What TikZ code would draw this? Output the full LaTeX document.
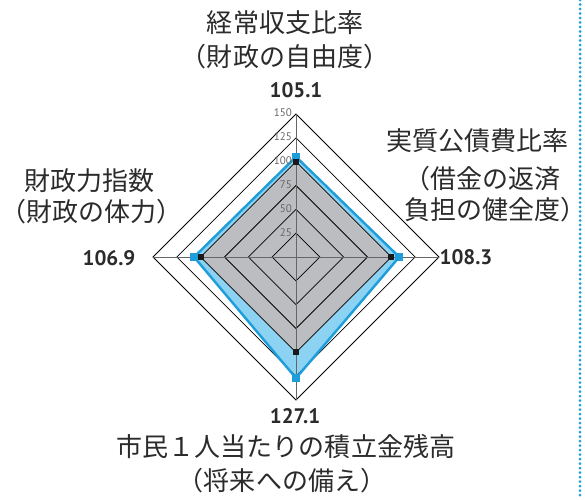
\documentclass[tikz,border=0pt]{standalone}
\usepackage{fontspec}
\setmainfont{Noto Sans CJK JP}
\newfontfamily\numfont{PT Sans}
\definecolor{chartblue}{HTML}{1D9DD9}
\definecolor{lightblue}{HTML}{8CD2F2}
\definecolor{chartgray}{HTML}{BCBDC0}
\definecolor{textgray}{HTML}{2B2B2B}

\begin{document}
\begin{tikzpicture}[x=1pt,y=1pt,
	title/.style={font=\fontsize{26}{26}\selectfont, text=textgray, inner sep=0pt},
	value/.style={font=\numfont\bfseries\fontsize{21}{21}\selectfont, text=textgray, inner sep=0pt},
	tick/.style={font=\numfont\fontsize{11}{11}\selectfont, text=black!60, anchor=east, inner sep=0pt}]
	\useasboundingbox (-296,-242) rectangle (289,257);
	\def\s{0.95333}
	% reference (100) and city values
	\coordinate (gT) at (0,100*\s);
	\coordinate (gR) at (100*\s,0);
	\coordinate (gB) at (0,-100*\s);
	\coordinate (gL) at (-100*\s,0);
	\coordinate (bT) at (0,105.1*\s);
	\coordinate (bR) at (108.3*\s,0);
	\coordinate (bB) at (0,-127.1*\s);
	\coordinate (bL) at (-106.9*\s,0);
	\fill[lightblue] (bT)--(bR)--(bB)--(bL)--cycle;
	\fill[chartgray] (gT)--(gR)--(gB)--(gL)--cycle;
	\foreach \r in {25,50,...,150}
		\draw[line width=0.8pt] (0,\r*\s)--(\r*\s,0)--(0,-\r*\s)--(-\r*\s,0)--cycle;
	\draw[black!60, line width=0.9pt] (-150*\s,0)--(150*\s,0) (0,-150*\s)--(0,150*\s);
	\draw[chartblue, line width=2.4pt] (bT)--(bR)--(bB)--(bL)--cycle;
	\foreach \p in {bT,bR,bB,bL}
		\node[fill=chartblue, minimum size=8pt, inner sep=0pt] (m\p) at (\p) {};
	\foreach \p in {gT,gR,gB,gL}
		\node[fill=black!90, minimum size=6pt, inner sep=0pt] (m\p) at (\p) {};
	\foreach \r in {25,50,...,150}
		\node[tick] (t\r) at (-4,\r*\s+1) {\r};
	% labels
	\node[title] (topA) at (-11,234) {経常収支比率};
	\node[title] (topB) at (-11,200) {（財政の自由度）};
	\node[value] (topV) at (0,167) {105.1};
	\node[title] (rightA) at (181,116) {実質公債費比率};
	\node[title, anchor=west] (rightB) at (108,78) {（借金の返済};
	\node[title, anchor=west] (rightC) at (108,47) {負担の健全度）};
	\node[value] (rightV) at (170,0) {108.3};
	\node[title] (leftA) at (-206,76) {財政力指数};
	\node[title] (leftB) at (-204,45) {（財政の体力）};
	\node[value] (leftV) at (-187,-1) {106.9};
	\node[value] (botV) at (-1,-159) {127.1};
	\node[title] (botA) at (-10,-190) {市民１人当たりの積立金残高};
	\node[title] (botB) at (-14,-224) {（将来への備え）};
	\draw[chartblue, line width=3pt, line cap=round, dash pattern=on 0pt off 4.5pt] (284,257)--(284,-242);
\end{tikzpicture}
\end{document}
